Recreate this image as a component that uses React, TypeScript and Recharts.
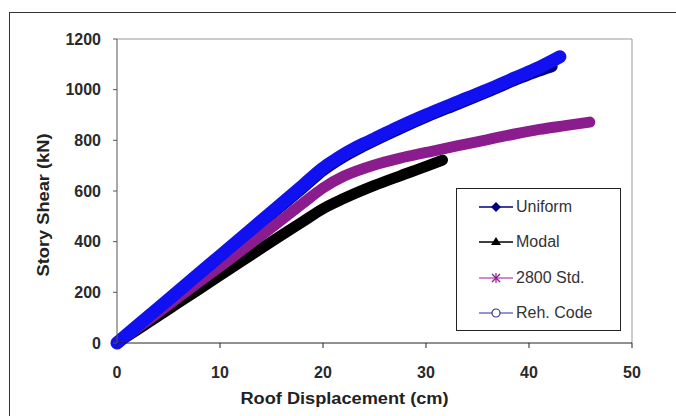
import React from 'react'
import { LineChart, Line, XAxis, YAxis, Legend, ReferenceLine } from 'recharts'

// values (roof displacement cm, story shear kN)
const uniformDisp = [0, 2, 5, 8, 10, 12, 15, 18, 20, 22, 24, 27.5, 30, 33, 36, 38.6, 40.5, 42.2]
const uniformShear = [0, 67, 169, 271, 339, 407, 510, 612, 682, 736, 780, 848, 893, 943, 993, 1038, 1068, 1092]

const modalDisp = [0, 2, 5, 8, 10, 12, 15, 18, 20, 22, 25, 27.5, 30, 31.6]
const modalShear = [0, 53, 133, 213, 267, 320, 400, 478, 530, 570, 622, 660, 697, 722]

const stdDisp = [0, 2, 5, 8, 10, 12, 15, 18, 20, 22, 25, 27.5, 30, 33, 36, 38.6, 41, 43.5, 45.9]
const stdShear = [0, 60, 151, 242, 302, 363, 455, 550, 612, 658, 703, 730, 752, 778, 803, 825, 843, 858, 872]

const rehDisp = [0, 2, 5, 8, 10, 12, 15, 18, 20, 21, 22, 23, 24, 25, 27.5, 30, 33, 36, 38.6, 41, 43]
const rehShear = [0, 69, 172, 275, 344, 413, 516, 620, 690, 718, 744, 767, 787, 806, 855, 900, 950, 1000, 1046, 1088, 1130]

const xTicks = [0, 10, 20, 30, 40, 50]
const yTicks = [0, 200, 400, 600, 800, 1000, 1200]

const toPoints = (xs: number[], ys: number[]) => xs.map((d, i) => ({ disp: d, shear: ys[i] }))

const uniformData = toPoints(uniformDisp, uniformShear)
const modalData = toPoints(modalDisp, modalShear)
const stdData = toPoints(stdDisp, stdShear)
const rehData = toPoints(rehDisp, rehShear)

const FONT = '"Liberation Sans", Arial, sans-serif'

function XTitle(props: any) {
  const { x, y, width } = props.viewBox
  return (
    <text
      x={x + width / 2 - 30}
      y={y + 61}
      textAnchor="middle"
      fontFamily={FONT}
      fontWeight="bold"
      fontSize={16}
      fill="#222"
      textLength={208}
      lengthAdjust="spacingAndGlyphs"
    >
      Roof Displacement (cm)
    </text>
  )
}

function YTitle(props: any) {
  const { x, y, height } = props.viewBox
  const cx = x - 14
  const cy = y + height / 2 + 14
  return (
    <text
      x={cx}
      y={cy}
      transform={`rotate(-90 ${cx} ${cy})`}
      textAnchor="middle"
      dominantBaseline="central"
      fontFamily={FONT}
      fontWeight="bold"
      fontSize={16}
      fill="#222"
      textLength={143}
      lengthAdjust="spacingAndGlyphs"
    >
      Story Shear (kN)
    </text>
  )
}

function Marker({ kind }: { kind: string }) {
  if (kind === 'uniform')
    return (
      <svg width={40} height={20}>
        <line x1={3} y1={10} x2={37} y2={10} stroke="#000080" strokeWidth={1.3} />
        <polygon points="20,5 25,10 20,15 15,10" fill="#000080" />
      </svg>
    )
  if (kind === 'modal')
    return (
      <svg width={40} height={20}>
        <line x1={3} y1={10} x2={37} y2={10} stroke="#000" strokeWidth={1.3} />
        <polygon points="20,5 25,13 15,13" fill="#000" />
      </svg>
    )
  if (kind === 'std')
    return (
      <svg width={40} height={20}>
        <line x1={3} y1={10} x2={37} y2={10} stroke="#c060c0" strokeWidth={1.3} />
        <g stroke="#8B1C8E" strokeWidth={1.2}>
          <line x1={16} y1={6} x2={24} y2={14} />
          <line x1={24} y1={6} x2={16} y2={14} />
          <line x1={20} y1={5} x2={20} y2={15} />
        </g>
      </svg>
    )
  return (
    <svg width={40} height={20}>
      <line x1={3} y1={10} x2={37} y2={10} stroke="#7070c8" strokeWidth={1.3} />
      <circle cx={20} cy={10} r={4} fill="#fff" stroke="#333399" strokeWidth={1.2} />
    </svg>
  )
}

const legendItems = [
  { kind: 'uniform', label: 'Uniform' },
  { kind: 'modal', label: 'Modal' },
  { kind: 'std', label: '2800 Std.' },
  { kind: 'reh', label: 'Reh. Code' },
]

function LegendBox() {
  return (
    <div
      style={{
        width: 165,
        height: 143,
        boxSizing: 'border-box',
        border: '1px solid #222',
        background: '#fff',
        fontFamily: FONT,
        fontSize: 16,
        color: '#333',
      }}
    >
      {legendItems.map((it) => (
        <div key={it.kind} style={{ display: 'flex', alignItems: 'center', height: 35.5, paddingLeft: 19 }}>
          <Marker kind={it.kind} />
          <span>{it.label}</span>
        </div>
      ))}
    </div>
  )
}

export default function App() {
  return (
    <div
      style={{
        position: 'absolute',
        left: 9,
        top: 12,
        width: 667,
        height: 404,
        boxSizing: 'border-box',
        borderLeft: '1.5px solid #333',
        borderTop: '1.5px solid #333',
        background: '#fff',
      }}
    >
      <LineChart
        width={640}
        height={395}
        margin={{ top: 26, right: 18, left: 47, bottom: 5 }}
        style={{ fontFamily: FONT }}
      >
        <XAxis
          dataKey="disp"
          type="number"
          domain={[0, 50]}
          ticks={xTicks}
          height={60}
          tickSize={5}
          tickMargin={19}
          axisLine={{ stroke: '#222' }}
          tickLine={{ stroke: '#222' }}
          tick={{ fontSize: 16, fontWeight: 'bold', fill: '#2a2a2a', fontFamily: FONT }}
          label={XTitle}
          allowDuplicatedCategory={false}
        />
        <YAxis
          dataKey="shear"
          type="number"
          domain={[0, 1200]}
          ticks={yTicks}
          width={60}
          tickSize={4}
          tickMargin={12}
          axisLine={{ stroke: '#555' }}
          tickLine={{ stroke: '#555' }}
          tick={{ fontSize: 16, fontWeight: 'bold', fill: '#2a2a2a', fontFamily: FONT }}
          label={YTitle}
        />
        <ReferenceLine y={1200} stroke="#999" />
        <ReferenceLine x={50} stroke="#999" />
        <Legend
          layout="vertical"
          align="center"
          verticalAlign="middle"
          content={LegendBox}
          wrapperStyle={{ left: 446, top: 175, width: 165, height: 143 }}
        />
        <Line
          data={uniformData}
          dataKey="shear"
          name="Uniform"
          type="monotone"
          stroke="#000080"
          strokeWidth={12}
          strokeLinecap="round"
          strokeLinejoin="round"
          dot={false}
          isAnimationActive={false}
        />
        <Line
          data={modalData}
          dataKey="shear"
          name="Modal"
          type="monotone"
          stroke="#000"
          strokeWidth={11}
          strokeLinecap="round"
          strokeLinejoin="round"
          dot={false}
          isAnimationActive={false}
        />
        <Line
          data={stdData}
          dataKey="shear"
          name="2800 Std."
          type="monotone"
          stroke="#8B1C8E"
          strokeWidth={11}
          strokeLinecap="round"
          strokeLinejoin="round"
          dot={false}
          isAnimationActive={false}
        />
        <Line
          data={rehData}
          dataKey="shear"
          name="Reh. Code"
          type="monotone"
          stroke="#1010F0"
          strokeWidth={13}
          strokeLinecap="round"
          strokeLinejoin="round"
          dot={false}
          isAnimationActive={false}
        />
      </LineChart>
    </div>
  )
}
